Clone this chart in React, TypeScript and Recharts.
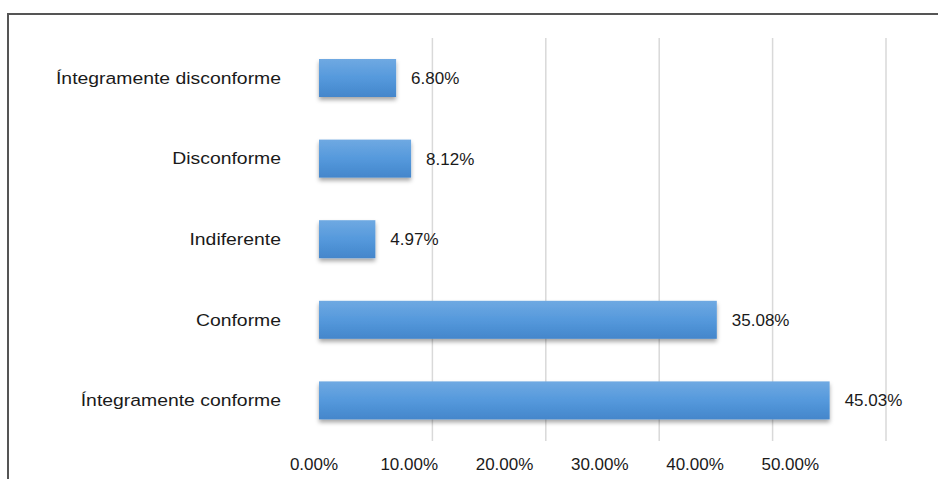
import React from 'react';
import { BarChart, Bar, XAxis, YAxis, CartesianGrid, LabelList } from 'recharts';

const categories = [
  'Íntegramente disconforme',
  'Disconforme',
  'Indiferente',
  'Conforme',
  'Íntegramente conforme',
];
const values = [0.068, 0.0812, 0.0497, 0.3508, 0.4503];
const axisTicks = [0, 0.1, 0.2, 0.3, 0.4, 0.5];
const gridTicks = [0.1, 0.2, 0.3, 0.4, 0.5];
const X_DOMAIN: [number, number] = [0, 0.5];

const data = categories.map((name, i) => ({ name, value: values[i] }));

const FONT = '"Liberation Sans", Arial, Helvetica, sans-serif';
const pct = (v: number) => `${(v * 100).toFixed(2)}%`;

const Y_AXIS_WIDTH = 319;
// the tick labels of the reference are drawn on a compressed copy of the value scale
const LABEL_SQUEEZE = 0.84;
const LABEL_SHIFT = -5;

const CategoryTick = (props: any) => {
  const { x, y, payload } = props;
  return (
    <text
      transform={`translate(${x},${y}) scale(1.14,1)`}
      textAnchor="end"
      dominantBaseline="central"
      fontSize={17}
      fill="#1a1a1a"
      fontFamily={FONT}
    >
      {payload.value}
    </text>
  );
};

const ValueTick = (props: any) => {
  const { x, y, payload } = props;
  const lx = Y_AXIS_WIDTH + LABEL_SHIFT + (x - Y_AXIS_WIDTH) * LABEL_SQUEEZE;
  return (
    <text
      x={lx}
      y={y}
      dy="0.71em"
      textAnchor="middle"
      fontSize={17}
      fill="#1a1a1a"
      fontFamily={FONT}
    >
      {pct(payload.value)}
    </text>
  );
};

const BarShape = (props: any) => {
  const { x, y, width, height } = props;
  if (!width || width <= 0) return null;
  return (
    <rect
      x={x}
      y={y}
      width={width}
      height={height}
      fill="url(#barGrad)"
      filter="url(#barShadow)"
    />
  );
};

const gridX = (args: any) => {
  const off = args?.offset;
  if (off && typeof off.left === 'number' && typeof off.width === 'number') {
    return gridTicks.map(
      (t) => off.left + ((t - X_DOMAIN[0]) / (X_DOMAIN[1] - X_DOMAIN[0])) * off.width
    );
  }
  const scale = args?.xAxis?.scale;
  if (typeof scale === 'function') return gridTicks.map((t) => scale(t));
  return [];
};

export default function App() {
  return (
    <div style={{ position: 'absolute', left: 0, top: 0, width: 938, height: 479, background: '#fff', overflow: 'hidden' }}>
      <div
        style={{
          position: 'absolute',
          left: 7,
          top: 13,
          width: 940,
          height: 480,
          borderTop: '2px solid #555',
          borderLeft: '2px solid #555',
        }}
      />
      <BarChart
        width={938}
        height={479}
        data={data}
        layout="vertical"
        margin={{ top: 38, right: 52, bottom: 8, left: 0 }}
        barSize={38}
        style={{ fontFamily: FONT }}
      >
        <defs>
          <linearGradient id="barGrad" x1="0" y1="0" x2="0" y2="1">
            <stop offset="0%" stopColor="#6fa9e2" />
            <stop offset="50%" stopColor="#5599dc" />
            <stop offset="100%" stopColor="#4486cb" />
          </linearGradient>
          <filter id="barShadow" x="-10%" y="-20%" width="120%" height="160%">
            <feDropShadow dx="0" dy="3" stdDeviation="2" floodColor="#000" floodOpacity="0.35" />
          </filter>
        </defs>
        <CartesianGrid
          horizontal={false}
          stroke="#d9d9d9"
          strokeWidth={1.5}
          verticalCoordinatesGenerator={gridX}
        />
        <XAxis
          type="number"
          domain={X_DOMAIN}
          ticks={axisTicks}
          interval={0}
          axisLine={false}
          tickLine={false}
          tickSize={0}
          tickMargin={17}
          height={30}
          tick={<ValueTick />}
        />
        <YAxis
          type="category"
          dataKey="name"
          width={Y_AXIS_WIDTH}
          axisLine={false}
          tickLine={false}
          tickSize={0}
          tickMargin={38}
          tick={<CategoryTick />}
          interval={0}
        />
        <Bar dataKey="value" isAnimationActive={false} shape={<BarShape />}>
          <LabelList
            dataKey="value"
            position="right"
            offset={15}
            formatter={(v: any) => pct(Number(v))}
            style={{ fontSize: 17, fill: '#1a1a1a', fontFamily: FONT }}
          />
        </Bar>
      </BarChart>
    </div>
  );
}
